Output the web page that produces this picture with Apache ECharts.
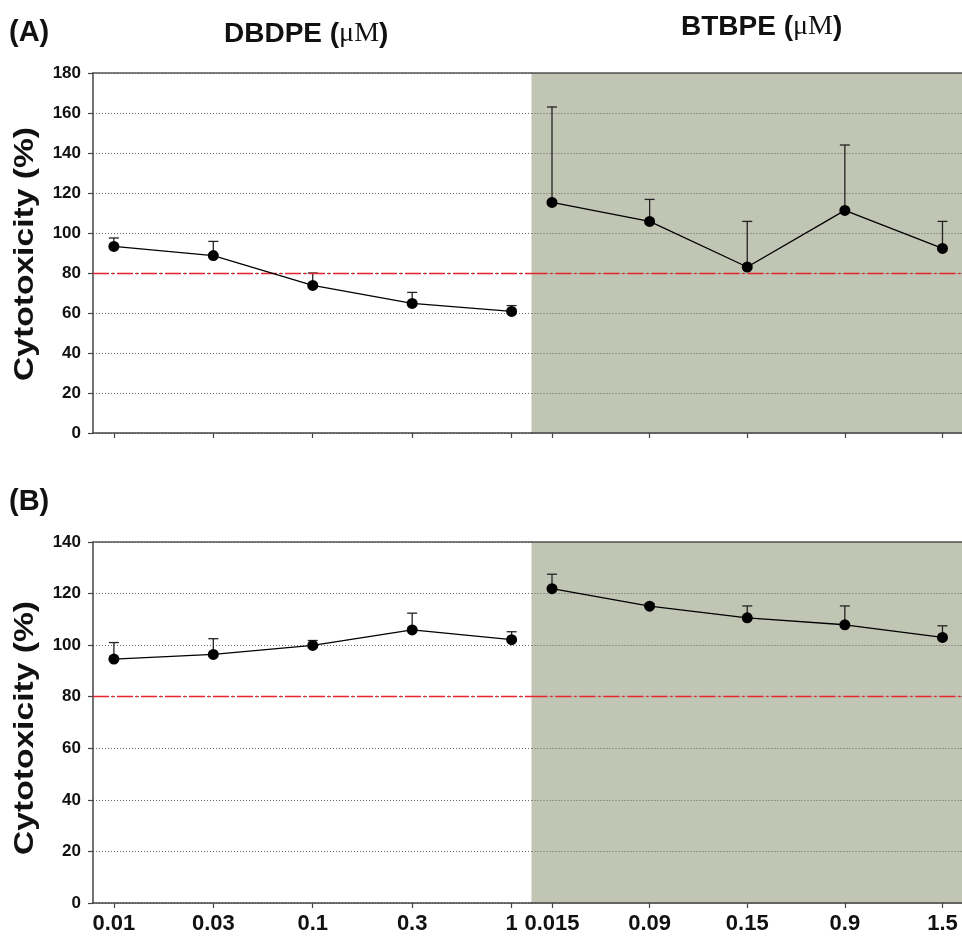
<!DOCTYPE html>
<html>
<head>
<meta charset="utf-8">
<script src="https://cdn.jsdelivr.net/npm/echarts@6/dist/echarts.min.js"></script>
<style>
html,body{margin:0;padding:0;background:#fff;}
#chart{width:962px;height:937px;}
</style>
</head>
<body>
<div id="chart"></div>
<script>
// ---- data ----
const catsDBDPE = ['0.01', '0.03', '0.1', '0.3', '1'];
const catsBTBPE = ['0.015', '0.09', '0.15', '0.9', '1.5'];

// Panel A
const aDBDPEmean  = [93.3, 88.7, 73.8, 64.8, 60.8];
const aDBDPEupper = [97.5, 95.8, 80.0, 70.3, 63.7];
const aBTBPEmean  = [115.3, 105.8, 83.0, 111.3, 92.3];
const aBTBPEupper = [163.0, 116.8, 105.8, 144.0, 105.8];

// Panel B
const bDBDPEmean  = [94.6, 96.4, 99.9, 105.9, 102.1];
const bDBDPEupper = [101.0, 102.5, 101.8, 112.4, 105.2];
const bBTBPEmean  = [121.9, 115.1, 110.6, 107.9, 103.0];
const bBTBPEupper = [127.5, 116.1, 115.2, 115.2, 107.5];

const yMaxA = 180, yMaxB = 140, yStep = 20;
const threshold = 80;

// ---- build ----
const FONT = '"Liberation Sans", Arial, sans-serif';
const AXIS = '#444';
const idx = catsDBDPE.map((_, i) => i);

const grids = [
  {left: 93,    top: 73,  width: 438.5, height: 360, show: false},
  {left: 531.5, top: 73,  width: 438,   height: 360, show: true, backgroundColor: '#C1C5B3', borderWidth: 0},
  {left: 93,    top: 542, width: 438.5, height: 361, show: false},
  {left: 531.5, top: 542, width: 438,   height: 361, show: true, backgroundColor: '#C1C5B3', borderWidth: 0}
];

function xBottom(g, cats, showLabels) {
  return {
    type: 'value', gridIndex: g, min: -0.21, max: 4.2, position: 'bottom',
    axisLine: {show: true, onZero: false, lineStyle: {color: AXIS, width: 1.5}},
    axisTick: {show: true, inside: false, length: 5, customValues: idx, lineStyle: {color: AXIS, width: 1.2}},
    axisLabel: {show: showLabels, customValues: idx, formatter: v => cats[Math.round(v)] || '',
      fontSize: 22, fontWeight: 'bold', color: '#111', margin: 10, fontFamily: FONT},
    splitLine: {show: false}
  };
}
function xTop(g) {
  return {
    type: 'value', gridIndex: g, min: -0.21, max: 4.2, position: 'top',
    axisLine: {show: true, onZero: false, lineStyle: {color: '#555', width: 1.5}},
    axisTick: {show: false}, axisLabel: {show: false}, splitLine: {show: false}
  };
}
function yAx(g, max, left) {
  return {
    type: 'value', gridIndex: g, min: 0, max: max, interval: yStep, position: 'left',
    axisLine: {show: left, onZero: false, lineStyle: {color: AXIS, width: 1.5}},
    axisTick: {show: left, inside: false, length: 5, lineStyle: {color: AXIS, width: 1.2}},
    axisLabel: {show: left, fontSize: 17, fontWeight: 'bold', color: '#111', margin: 12, fontFamily: FONT},
    splitLine: {show: true, lineStyle: {color: '#666', width: 1, type: [1, 2]}}
  };
}

const xAxes = [
  xBottom(0, catsDBDPE, false), xBottom(1, catsBTBPE, false),
  xBottom(2, catsDBDPE, true),  xBottom(3, catsBTBPE, true),
  xTop(0), xTop(1), xTop(2), xTop(3)
];
const yAxes = [yAx(0, yMaxA, true), yAx(1, yMaxA, false), yAx(2, yMaxB, true), yAx(3, yMaxB, false)];

function lineSeries(g, means) {
  return {
    type: 'line', xAxisIndex: g, yAxisIndex: g, z: 5,
    data: means.map((v, i) => [i, v]),
    symbol: 'circle', symbolSize: 11,
    itemStyle: {color: '#000'},
    lineStyle: {color: '#000', width: 1.3},
    animation: false,
    markLine: {
      silent: true, symbol: 'none', animation: false,
      label: {show: false},
      lineStyle: {color: '#e3262b', width: 1.4, type: [16, 3, 2, 3]},
      data: [{yAxis: threshold}]
    }
  };
}
function errSeries(g, means, uppers) {
  return {
    type: 'custom', xAxisIndex: g, yAxisIndex: g, z: 4,
    data: means.map((v, i) => [i, v, uppers[i]]),
    animation: false,
    renderItem: function (params, api) {
      const x = api.value(0);
      const p0 = api.coord([x, api.value(1)]);
      const p1 = api.coord([x, api.value(2)]);
      const st = {stroke: '#222', lineWidth: 1.3};
      return {
        type: 'group',
        children: [
          {type: 'line', shape: {x1: p0[0], y1: p0[1], x2: p1[0], y2: p1[1]}, style: st},
          {type: 'line', shape: {x1: p1[0] - 5, y1: p1[1], x2: p1[0] + 5, y2: p1[1]}, style: st}
        ]
      };
    }
  };
}

const series = [
  errSeries(0, aDBDPEmean, aDBDPEupper), lineSeries(0, aDBDPEmean),
  errSeries(1, aBTBPEmean, aBTBPEupper), lineSeries(1, aBTBPEmean),
  errSeries(2, bDBDPEmean, bDBDPEupper), lineSeries(2, bDBDPEmean),
  errSeries(3, bBTBPEmean, bBTBPEupper), lineSeries(3, bBTBPEmean)
];

const richHead = {
  b: {fontFamily: FONT, fontWeight: 'bold', fontSize: 28, fill: '#111', color: '#111'},
  m: {fontFamily: '"Liberation Serif", "Times New Roman", serif', fontWeight: 'normal', fontSize: 28, fill: '#111', color: '#111'}
};

const graphic = [
  {type: 'text', x: 9, y: 33, style: {text: '(A)', font: 'bold 29px ' + FONT, fill: '#111', textVerticalAlign: 'middle'}},
  {type: 'text', x: 9, y: 502, style: {text: '(B)', font: 'bold 29px ' + FONT, fill: '#111', textVerticalAlign: 'middle'}},
  {type: 'text', x: 224, y: 34, style: {text: '{b|DBDPE (}{m|μM}{b|)}', rich: richHead, textVerticalAlign: 'middle'}},
  {type: 'text', x: 681, y: 27, style: {text: '{b|BTBPE (}{m|μM}{b|)}', rich: richHead, textVerticalAlign: 'middle'}},
  {type: 'text', x: 25, y: 254, rotation: Math.PI / 2, scaleX: 1.05, scaleY: 0.85,
    style: {text: 'Cytotoxicity (%)', font: 'bold 32px ' + FONT, fill: '#111', textAlign: 'center', textVerticalAlign: 'middle'}},
  {type: 'text', x: 25, y: 728, rotation: Math.PI / 2, scaleX: 1.05, scaleY: 0.85,
    style: {text: 'Cytotoxicity (%)', font: 'bold 32px ' + FONT, fill: '#111', textAlign: 'center', textVerticalAlign: 'middle'}}
];

const chart = echarts.init(document.getElementById('chart'), null, {renderer: 'canvas'});
chart.setOption({
  animation: false,
  backgroundColor: '#fff',
  grid: grids,
  xAxis: xAxes,
  yAxis: yAxes,
  series: series,
  graphic: graphic
});
</script>
</body>
</html>
